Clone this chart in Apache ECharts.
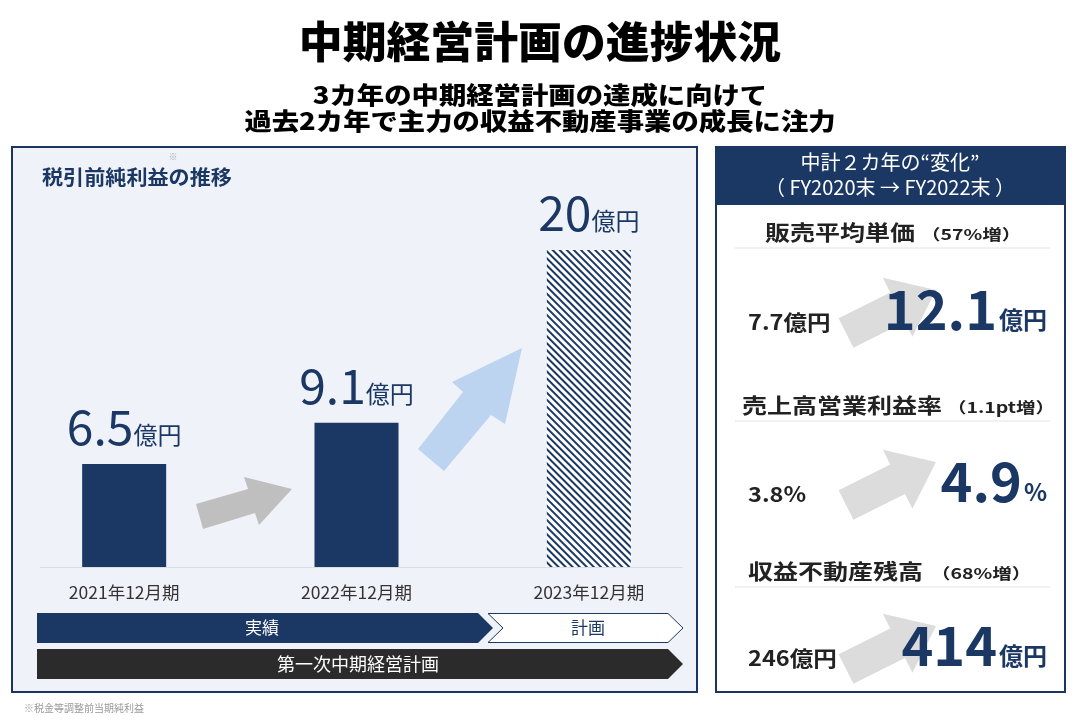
<!DOCTYPE html>
<html><head><meta charset="utf-8">
<script src="https://cdn.jsdelivr.net/npm/echarts@6/dist/echarts.min.js"></script>
<style>html,body{margin:0;padding:0;background:#fff}#c{width:1080px;height:720px}</style>
</head><body><div id="c"></div>
<script>
// ---- data ----
const mainTitle = '中期経営計画の進捗状況';
const subTitles = ['3カ年の中期経営計画の達成に向けて', '過去2カ年で主力の収益不動産事業の成長に注力'];
const panelTitle = '税引前純利益の推移';
const categories = ['2021年12月期', '2022年12月期', '2023年12月期'];
const profitValues = [6.5, 9.1, 20];
const isPlan = [false, false, true];
const valueUnit = '億円';
const phaseLabels = ['実績', '計画'];
const planLabel = '第一次中期経営計画';
const footnote = '※税金等調整前当期純利益';
const sideHeader = ['中計２カ年の“変化”', '（ FY2020末 → FY2022末 ）'];
const metricNames = ['販売平均単価', '売上高営業利益率', '収益不動産残高'];
const metricChanges = ['（57%増）', '（1.1pt増）', '（68%増）'];
const metricFrom = ['7.7', '3.8', '246'];
const metricTo = ['12.1', '4.9', '414'];
const metricUnits = ['億円', '%', '億円'];

// ---- style ----
const NAVY = '#1b3764';
const FONT = '"Noto Sans CJK JP", "Noto Sans", sans-serif';

const chart = echarts.init(document.getElementById('c'));

function txt(text, x, y, size, opts) {
  opts = opts || {};
  return {
    type: 'text', z: opts.z || 10, silent: true,
    scaleX: opts.scaleX || 1, x: x, y: y,
    style: {
      text: text, x: 0, y: 0,
      fill: opts.fill || '#222',
      font: (opts.weight || 'normal') + ' ' + size + 'px ' + FONT,
      align: opts.align || 'center',
      verticalAlign: opts.va || 'middle'
    }
  };
}
function poly(points, fill, z, stroke) {
  return { type: 'polygon', silent: true, z: z, shape: { points: points },
    style: { fill: fill, stroke: stroke || null, lineWidth: stroke ? 1 : 0 } };
}

const graphics = [];
// titles
graphics.push(txt(mainTitle, 540, 42, 43, { weight: 900, fill: '#000', scaleX: 1.02 }));
graphics.push(txt(subTitles[0], 540, 95, 24, { weight: 900, fill: '#000', scaleX: 1.14 }));
graphics.push(txt(subTitles[1], 540, 121, 24, { weight: 900, fill: '#000', scaleX: 1.14 }));

// left panel
graphics.push({ type: 'rect', silent: true, z: 0, shape: { x: 12, y: 147, width: 685, height: 545 },
  style: { fill: '#eff2f8', stroke: '#1c3461', lineWidth: 2 } });
graphics.push(txt(panelTitle, 42, 177, 20, { weight: 'bold', fill: NAVY, align: 'left', scaleX: 1.055 }));
graphics.push(txt('※', 173, 157, 9, { fill: '#aaa' }));
graphics.push({ type: 'line', silent: true, z: 1, shape: { x1: 40, y1: 567.5, x2: 683, y2: 567.5 },
  style: { stroke: '#d9dde4', lineWidth: 1 } });
// arrows
graphics.push(poly([[196,504],[248,489],[244,477],[292,489],[259,525],[255,513],[203,529]], '#bfbfbf', 1));
graphics.push(poly([[418,449],[463,392],[452,382],[522,348],[505,424],[491,415],[444,471]], '#bdd4f0', 1));
// phase chevrons
graphics.push(poly([[37,613],[478,613],[493,628],[478,643],[37,643]], NAVY, 3));
graphics.push(poly([[488,613.5],[668,613.5],[683,628],[668,642.5],[488,642.5],[503,628]], '#fff', 3, NAVY));
graphics.push(txt(phaseLabels[0], 262, 628, 17, { fill: '#fff', z: 4 }));
graphics.push(txt(phaseLabels[1], 588, 628, 17, { fill: NAVY, z: 4 }));
graphics.push(poly([[37,649],[668,649],[683,664],[668,679],[37,679]], '#2b2b2b', 3));
graphics.push(txt(planLabel, 358, 664, 18, { fill: '#fff', z: 4 }));
graphics.push(txt(footnote, 24, 708, 10, { fill: '#999', align: 'left' }));

// right panel
graphics.push({ type: 'rect', silent: true, z: 0, shape: { x: 716, y: 147, width: 349, height: 545 },
  style: { fill: '#fff', stroke: '#1c3461', lineWidth: 2 } });
graphics.push({ type: 'rect', silent: true, z: 1, shape: { x: 716, y: 147, width: 349, height: 58 },
  style: { fill: NAVY } });
graphics.push(txt(sideHeader[0], 890, 162, 20, { fill: '#fff' }));
graphics.push(txt(sideHeader[1], 890, 187, 20, { fill: '#fff' }));

const rowOff = [0, 172, 336];
const titleY = [232, 405, 571];
const titleX = [765, 742, 748];
const changeX = [921, 947, 931];
const arrowBase = [[838.6,318.2],[890.2,292.4],[882.9,277.7],[936,290],[912.4,336.7],[905,322],[853.4,347.8]];
metricNames.forEach(function (name, i) {
  const o = rowOff[i];
  const ty = titleY[i];
  graphics.push(txt(name, titleX[i], ty, 21, { weight: 'bold', align: 'left', fill: '#222', scaleX: 1.19 }));
  graphics.push(txt(metricChanges[i], changeX[i], ty + 2, 15, { weight: 'bold', align: 'left', fill: '#222', scaleX: 1.3 }));
  graphics.push({ type: 'line', silent: true, z: 2, shape: { x1: 735, y1: ty + 16, x2: 1050, y2: ty + 16 },
    style: { stroke: '#e3e3e3', lineWidth: 1 } });
  graphics.push(poly(arrowBase.map(function (p) { return [p[0], p[1] + o]; }), '#dcdcdc', 3));
  graphics.push(txt(metricFrom[i] + metricUnits[i], 748, 333 + o, 21, { weight: 'bold', align: 'left', va: 'bottom', fill: '#222', scaleX: 1.12 }));
  graphics.push({ type: 'text', silent: true, z: 10, x: 1047, y: 336 + o,
    style: { text: '{n|' + metricTo[i] + '}{u|' + metricUnits[i] + '}', x: 0, y: 0, align: 'right', verticalAlign: 'bottom',
      rich: { n: { font: 'bold 54px ' + FONT, fill: NAVY, verticalAlign: 'bottom' },
              u: { font: 'bold 24px ' + FONT, fill: NAVY, verticalAlign: 'bottom', padding: [0,0,4,2] } } } });
});

const seriesData = profitValues.map(function (v, i) {
  return {
    value: v,
    itemStyle: isPlan[i] ? {
      color: '#fff',
      decal: { symbol: 'rect', symbolSize: 1, dashArrayX: [1, 0], dashArrayY: [2, 2.6], rotation: Math.PI / 4,
        color: NAVY, backgroundColor: '#fff' }
    } : { color: NAVY }
  };
});

chart.setOption({
  animation: false,
  backgroundColor: '#fff',
  textStyle: { fontFamily: FONT },
  grid: { left: 8, width: 697, top: 250, bottom: 153 },
  xAxis: {
    type: 'category', data: categories,
    axisLine: { show: false }, axisTick: { show: false },
    axisLabel: { color: '#333', fontSize: 17.5, margin: 17, fontFamily: FONT }
  },
  yAxis: { type: 'value', min: 0, max: 20, show: false, splitLine: { show: false } },
  series: [{
    type: 'bar', data: seriesData, barWidth: 84, z: 5,
    label: {
      show: true, position: 'top', distance: 13,
      formatter: function (p) { return '{v|' + p.value + '}{u|' + valueUnit + '}'; },
      rich: {
        v: { fontSize: 48, color: NAVY, fontFamily: FONT, fontWeight: 'normal', verticalAlign: 'bottom' },
        u: { fontSize: 24, color: NAVY, fontFamily: FONT, verticalAlign: 'bottom', padding: [0, 0, 4, 0] }
      }
    }
  }],
  graphic: graphics
});
</script>
</body></html>
